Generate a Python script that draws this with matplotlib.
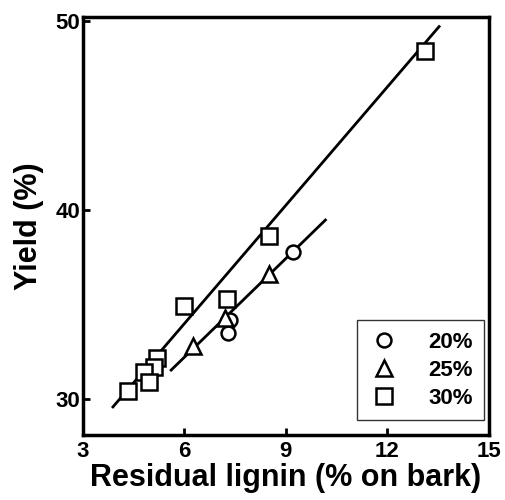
import numpy as np
import matplotlib
matplotlib.use("Agg")
import matplotlib.pyplot as plt

plt.rcParams['font.family'] = ['Liberation Sans', 'DejaVu Sans']
plt.rcParams['font.weight'] = 'bold'

# Data
series_labels = ["20%", "25%", "30%"]
lignin_20 = [9.2, 7.35, 7.3]
yield_20 = [37.75, 34.2, 33.5]
lignin_25 = [8.5, 7.2, 6.25]
yield_25 = [36.6, 34.3, 32.8]
lignin_30 = [13.1, 8.5, 7.25, 6.0, 5.2, 5.1, 4.8, 4.95, 4.35]
yield_30 = [48.4, 38.6, 35.3, 34.9, 32.15, 31.7, 31.45, 30.9, 30.4]

# Fit lines (slope, intercept, x-range)
upper_fit = [2.086, 21.47]
upper_range = [3.89, 13.53]
lower_fit = [1.74, 21.77]
lower_range = [5.61, 10.17]

x_ticks = [3, 6, 9, 12, 15]
y_ticks = [30, 40, 50]

fig = plt.figure(figsize=(5.05, 5.0), dpi=100)
ax = fig.add_axes([0.164, 0.13, 0.804, 0.836])

for fit, rng in [(upper_fit, upper_range), (lower_fit, lower_range)]:
    xs = np.array(rng)
    ax.plot(xs, fit[0] * xs + fit[1], color='black', lw=2.0, zorder=2)

mk = dict(mfc='white', mec='black', mew=1.8, ls='none', zorder=3)
ax.plot(lignin_20, yield_20, marker='o', ms=10, label=series_labels[0], **mk)
ax.plot(lignin_25, yield_25, marker='^', ms=12, label=series_labels[1], **mk)
ax.plot(lignin_30, yield_30, marker='s', ms=11, label=series_labels[2], **mk)

ax.set_xlim(3, 15)
ax.set_ylim(28.1, 50.2)
ax.set_xticks(x_ticks)
ax.set_yticks(y_ticks)
ax.tick_params(direction='in', length=5, width=2, labelsize=16)
ax.tick_params(axis='x', pad=4)
ax.tick_params(axis='y', pad=2)
for lab in ax.get_xticklabels() + ax.get_yticklabels():
    lab.set_fontweight('bold')
for s in ax.spines.values():
    s.set_linewidth(2.5)

ax.set_xlabel("Residual lignin (% on bark)", fontsize=22, fontweight='bold', labelpad=1)
ax.set_ylabel("Yield (%)", fontsize=22, fontweight='bold', labelpad=8)

leg = ax.legend(loc='lower right', bbox_to_anchor=(0.987, 0.035), frameon=True,
                fancybox=False, edgecolor='black', prop={'size': 16, 'weight': 'bold'},
                handlelength=1.4, handletextpad=1.3, labelspacing=0.33,
                borderpad=0.5, borderaxespad=0.0, markerscale=1.0)
leg.get_frame().set_linewidth(1.0)

fig.savefig("out.png", dpi=100)
